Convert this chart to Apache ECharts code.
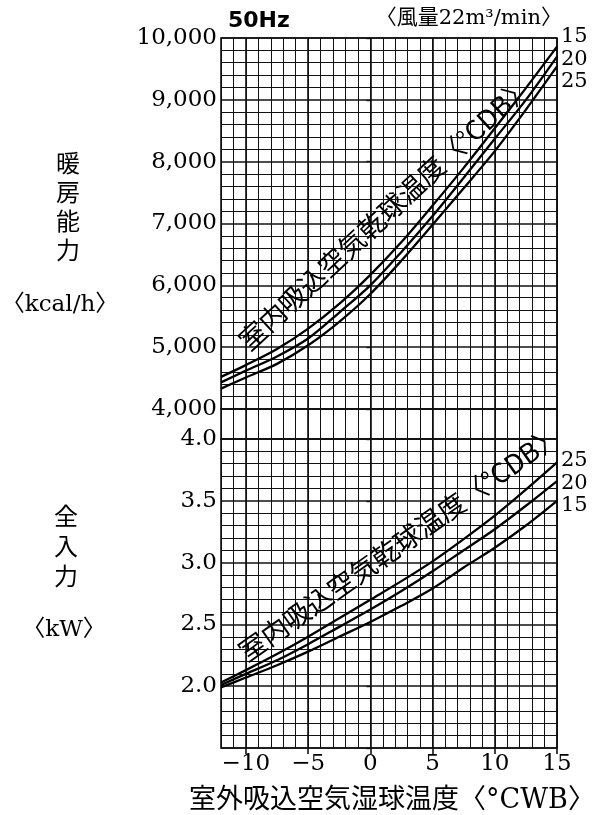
<!DOCTYPE html>
<html>
<head>
<meta charset="utf-8">
<script src="https://cdn.jsdelivr.net/npm/echarts@6/dist/echarts.min.js"></script>
<style>
html,body{margin:0;padding:0;background:#fff;}
#chart{width:593px;height:815px;}
</style>
</head>
<body>
<div id="chart"></div>
<script>
// Outdoor intake air wet-bulb temperature (°CWB)
const cwb = [-12, -10, -7.5, -5, -2.5, 0, 2.5, 5, 7.5, 10, 12.5, 15];
// Heating capacity (kcal/h) for indoor dry-bulb 15/20/25 °C
const heat15 = [4520, 4710, 4970, 5300, 5700, 6170, 6700, 7290, 7900, 8540, 9190, 9860];
const heat20 = [4430, 4620, 4850, 5140, 5560, 6000, 6540, 7120, 7740, 8370, 9000, 9700];
const heat25 = [4330, 4510, 4730, 5030, 5410, 5860, 6400, 6980, 7570, 8170, 8840, 9540];
// Total input power (kW) for indoor dry-bulb 15/20/25 °C
const power15 = [1.99, 2.07, 2.17, 2.28, 2.40, 2.52, 2.65, 2.79, 2.96, 3.12, 3.30, 3.50];
const power20 = [2.01, 2.10, 2.21, 2.34, 2.48, 2.62, 2.77, 2.93, 3.10, 3.27, 3.46, 3.66];
const power25 = [2.03, 2.13, 2.26, 2.40, 2.55, 2.70, 2.85, 3.01, 3.19, 3.38, 3.59, 3.81];
const cdbNames = ['15', '20', '25'];
const xTickValues = [-10, -5, 0, 5, 10, 15];

const INK = '#111';
const serif = '"DejaVu Serif", "Liberation Serif", serif';
const cjk = '"DejaVu Serif", "Noto Sans CJK JP", sans-serif';

function commas(v){
  const s = String(Math.round(v));
  return s.replace(/\B(?=(\d{3})+(?!\d))/g, ',');
}

const L = 221, W = 336;
const grids = [
  {left: L, width: W, top: 38, height: 371},
  {left: L, width: W, top: 409, height: 30},
  {left: L, width: W, top: 439, height: 309}
].map(g => Object.assign(g, {show: true, borderColor: INK, borderWidth: 1.6, backgroundColor: 'transparent'}));

const xAxes = [];
for (let g = 0; g < 3; g++) {
  xAxes.push({
    type: 'value', gridIndex: g, position: 'bottom', min: -12, max: 15, interval: 1,
    axisLine: {show: false}, axisTick: {show: false}, axisLabel: {show: false},
    splitLine: {show: true, lineStyle: {color: INK, width: 1}}
  });
  xAxes.push({
    type: 'value', gridIndex: g, position: 'bottom', offset: 0, min: -12, max: 15, splitNumber: 5,
    axisLine: {show: false, onZero: false},
    axisTick: {show: g === 2, length: 6, customValues: xTickValues, lineStyle: {color: INK, width: 1.6}},
    axisLabel: {
      show: g === 2, margin: 5, color: '#000', fontFamily: serif, fontSize: 23,
      customValues: xTickValues,
      formatter: v => (v % 5 === 0 ? (v < 0 ? '\u2212' + Math.abs(v) : String(v)) : '')
    },
    splitLine: {show: true, lineStyle: {color: INK, width: 1.6}}
  });
}

const yAxes = [
  {
    type: 'value', gridIndex: 0, min: 4000, max: 10000, interval: 1000,
    axisLine: {show: false},
    axisTick: {show: true, length: 4, lineStyle: {color: INK, width: 1.4}},
    axisLabel: {margin: 4, color: '#000', fontFamily: serif, fontSize: 23, formatter: v => commas(v)},
    splitLine: {show: true, lineStyle: {color: INK, width: 1.6}},
    minorTick: {show: false, splitNumber: 5},
    minorSplitLine: {show: true, lineStyle: {color: INK, width: 1}}
  },
  {
    type: 'value', gridIndex: 1, min: 0, max: 1, show: false
  },
  {
    type: 'value', gridIndex: 2, min: 1.5, max: 4.0, interval: 0.5,
    axisLine: {show: false},
    axisTick: {show: true, length: 4, lineStyle: {color: INK, width: 1.4}},
    axisLabel: {margin: 4, color: '#000', fontFamily: serif, fontSize: 23,
      formatter: v => (Math.abs(v - 1.5) < 1e-6 ? '' : v.toFixed(1))},
    splitLine: {show: true, lineStyle: {color: INK, width: 1.6}},
    minorTick: {show: false, splitNumber: 5},
    minorSplitLine: {show: true, lineStyle: {color: INK, width: 1}}
  }
];

function line(name, xs, ys, xi, yi) {
  return {
    name: name, type: 'line', xAxisIndex: xi, yAxisIndex: yi,
    data: xs.map((x, i) => [x, ys[i]]),
    smooth: 0.3, symbol: 'none', silent: true, z: 5,
    lineStyle: {color: '#000', width: 2.3}
  };
}

const series = [
  line('暖房能力 ' + cdbNames[0], cwb, heat15, 0, 0),
  line('暖房能力 ' + cdbNames[1], cwb, heat20, 0, 0),
  line('暖房能力 ' + cdbNames[2], cwb, heat25, 0, 0),
  line('全入力 ' + cdbNames[0], cwb, power15, 4, 2),
  line('全入力 ' + cdbNames[1], cwb, power20, 4, 2),
  line('全入力 ' + cdbNames[2], cwb, power25, 4, 2)
];

function txt(x, y, text, font, align, vAlign, rot) {
  return {
    type: 'text', x: x, y: y, rotation: rot || 0, z: 10, silent: true,
    style: {text: text, font: font, fill: '#000',
      align: align, verticalAlign: vAlign, textAlign: align, textVerticalAlign: vAlign}
  };
}

const deg = Math.PI / 180;
const graphic = [
  txt(228, 21, '50Hz', 'bold 22px "DejaVu Sans", sans-serif', 'left', 'middle'),
  txt(562, 19, '〈風量22m³/min〉', '21px ' + cjk, 'right', 'middle'),
  // curve labels
  txt(561, 37, cdbNames[0], '21px ' + serif, 'left', 'middle'),
  txt(561, 60, cdbNames[1], '21px ' + serif, 'left', 'middle'),
  txt(561, 82, cdbNames[2], '21px ' + serif, 'left', 'middle'),
  txt(561, 461, cdbNames[2], '21px ' + serif, 'left', 'middle'),
  txt(561, 484, cdbNames[1], '21px ' + serif, 'left', 'middle'),
  txt(561, 506, cdbNames[0], '21px ' + serif, 'left', 'middle'),
  // left titles
  {type: 'text', x: 68, y: 148, z: 10, silent: true,
    style: {text: '暖\n房\n能\n力', font: '24px "Noto Sans CJK JP", sans-serif', lineHeight: 29, fill: '#000', align: 'center', textAlign: 'center', verticalAlign: 'top', textVerticalAlign: 'top'}},
  txt(60, 305, '〈kcal/h〉', '23px ' + cjk, 'center', 'middle'),
  {type: 'text', x: 66, y: 501, z: 10, silent: true,
    style: {text: '全\n入\n力', font: '24px "Noto Sans CJK JP", sans-serif', lineHeight: 30, fill: '#000', align: 'center', textAlign: 'center', verticalAlign: 'top', textVerticalAlign: 'top'}},
  txt(64, 630, '〈kW〉', '23px ' + cjk, 'center', 'middle'),
  // x axis title
  txt(392, 801, '室外吸込空気湿球温度〈°CWB〉', '27px ' + cjk, 'center', 'middle'),
  // in-plot labels
  txt(385, 213, '室内吸込空気乾球温度〈°CDB〉', '27px "Noto Sans CJK JP", sans-serif', 'center', 'middle', 42.8 * deg),
  txt(400, 543, '室内吸込空気乾球温度〈°CDB〉', '27px "Noto Sans CJK JP", sans-serif', 'center', 'middle', 35.1 * deg)
];

const chart = echarts.init(document.getElementById('chart'), null, {renderer: 'canvas'});
chart.setOption({
  backgroundColor: '#fff',
  animation: false,
  grid: grids,
  xAxis: xAxes,
  yAxis: yAxes,
  series: series,
  graphic: graphic
});
</script>
</body>
</html>
